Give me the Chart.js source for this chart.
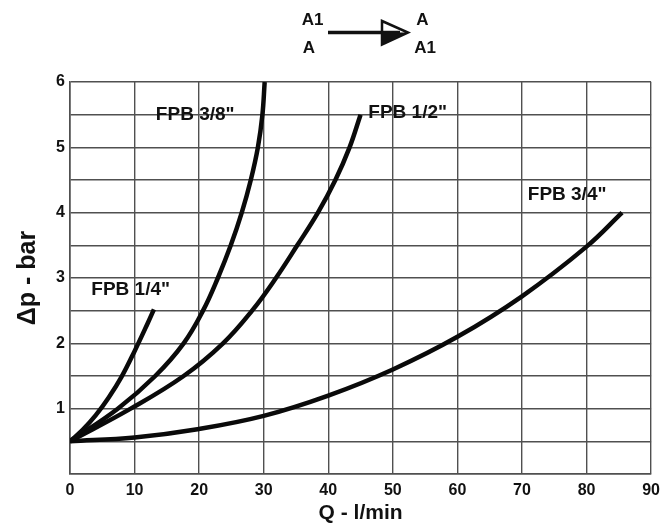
<!DOCTYPE html>
<html><head><meta charset="utf-8">
<script src="https://cdn.jsdelivr.net/npm/chart.js@4.4.1/dist/chart.umd.min.js"></script>
<style>html,body{margin:0;padding:0;background:#fff;overflow:hidden}canvas{display:block}</style>
</head><body>
<canvas id="c" width="667" height="527"></canvas>
<script>
// ---- data ----
const seriesNames = ['FPB 1/4"', 'FPB 3/8"', 'FPB 1/2"', 'FPB 3/4"'];
const q14  = [0, 2, 4, 6, 8, 10, 12, 13];
const dp14 = [0.5, 0.68, 0.9, 1.17, 1.49, 1.88, 2.3, 2.52];
const q38  = [0, 7.4, 13.2, 17.6, 20.6, 22.9, 24.9, 26.6, 28.0, 29.1, 29.8, 30.15];
const dp38 = [0.5, 1.0, 1.5, 2.0, 2.5, 3.0, 3.5, 4.0, 4.5, 5.0, 5.5, 6.0];
const q12  = [0, 9.4, 17.6, 23.7, 28.2, 31.9, 35.2, 38.4, 41.1, 43.3, 45];
const dp12 = [0.5, 1.0, 1.5, 2.0, 2.5, 3.0, 3.5, 4.0, 4.5, 5.0, 5.5];
const q34  = [0, 10, 20, 30, 40, 50, 60, 70, 80, 85.5];
const dp34 = [0.5, 0.56, 0.69, 0.89, 1.2, 1.6, 2.1, 2.72, 3.48, 4.0];
const xTickLabels = ['0','10','20','30','40','50','60','70','80','90'];
const yTickLabels = ['1','2','3','4','5','6'];
const xTitle = 'Q - l/min';
const yTitle = 'Δp - bar';
const headerLeft = ['A1', 'A'];
const headerRight = ['A', 'A1'];

// label anchors (data coordinates, left/middle of text)
const labelAnchors = [[3.3, 2.82], [13.3, 5.5], [46.2, 5.53], [70.9, 4.27]];

const BASE = '"Liberation Sans", Arial, sans-serif';
const tickFont = {family: BASE, size: 16, weight: 'bold'};

const pts = (xs, ys) => xs.map((x, i) => ({x: x, y: ys[i]}));
const seriesData = [pts(q14, dp14), pts(q38, dp38), pts(q12, dp12), pts(q34, dp34)];

const overlay = {
  id: 'overlay',
  afterDraw(chart) {
    const ctx = chart.ctx, xs = chart.scales.x, ys = chart.scales.y;
    ctx.save();
    ctx.fillStyle = '#111';
    ctx.font = 'bold 19px ' + BASE;
    ctx.textAlign = 'left';
    ctx.textBaseline = 'middle';
    seriesNames.forEach((n, i) => {
      const [lx, ly] = labelAnchors[i];
      ctx.fillText(n, xs.getPixelForValue(lx), ys.getPixelForValue(ly));
    });
    // header
    ctx.font = 'bold 17px ' + BASE;
    ctx.textAlign = 'center';
    ctx.fillText(headerLeft[0], 312.5, 20.5);
    ctx.fillText(headerLeft[1], 309, 48.5);
    ctx.fillText(headerRight[0], 422.5, 20.5);
    ctx.fillText(headerRight[1], 425, 48.5);
    // arrow
    ctx.strokeStyle = '#111';
    ctx.lineWidth = 3.5;
    ctx.beginPath(); ctx.moveTo(328, 32.5); ctx.lineTo(400, 32.5); ctx.stroke();
    ctx.lineWidth = 2.5;
    ctx.lineJoin = 'miter';
    ctx.beginPath(); ctx.moveTo(382, 21); ctx.lineTo(408, 32.5); ctx.lineTo(382, 44.5); ctx.closePath(); ctx.stroke();
    ctx.beginPath(); ctx.moveTo(382, 32.5); ctx.lineTo(408, 32.5); ctx.lineTo(382, 44.5); ctx.closePath(); ctx.fill();
    ctx.restore();
  }
};

new Chart(document.getElementById('c'), {
  type: 'line',
  data: {
    datasets: seriesData.map((d, i) => ({
      label: seriesNames[i], data: d,
      borderColor: '#0a0a0a', borderWidth: 4.5,
      pointRadius: 0, fill: false,
      tension: 0.4
    }))
  },
  options: {
    responsive: false, animation: false, devicePixelRatio: 1,
    layout: {padding: {top: 82, right: 7, left: 0, bottom: 0}},
    plugins: {legend: {display: false}, tooltip: {enabled: false}},
    scales: {
      x: {
        type: 'linear', min: 0, max: 90,
        afterFit: s => { s.height = 53; },
        afterBuildTicks: s => { s.ticks = xTickLabels.map(v => ({value: Number(v)})); },
        ticks: {color: '#111', font: tickFont, padding: 7, maxRotation: 0, autoSkip: false,
                callback: v => xTickLabels.includes(String(v)) ? String(v) : ''},
        grid: {color: '#505050', lineWidth: 1.4, drawTicks: false},
        border: {color: '#505050', width: 1.6},
        title: {display: true, text: xTitle, color: '#111',
                font: {family: BASE, size: 21, weight: 'bold'}, padding: {top: 0, bottom: 1}}
      },
      y: {
        type: 'linear', min: 0, max: 6,
        afterFit: s => { s.width = 70; },
        ticks: {stepSize: 0.5, color: '#111', font: tickFont, padding: 5, autoSkip: false,
                callback: v => yTickLabels.includes(String(v)) ? String(v) : ''},
        grid: {color: '#505050', lineWidth: 1.4, drawTicks: false},
        border: {color: '#505050', width: 1.6},
        title: {display: true, text: yTitle, color: '#111',
                font: {family: BASE, size: 25, weight: 'bold'}, padding: {top: 13, bottom: 0}}
      }
    }
  },
  plugins: [overlay]
});
</script>
</body></html>
